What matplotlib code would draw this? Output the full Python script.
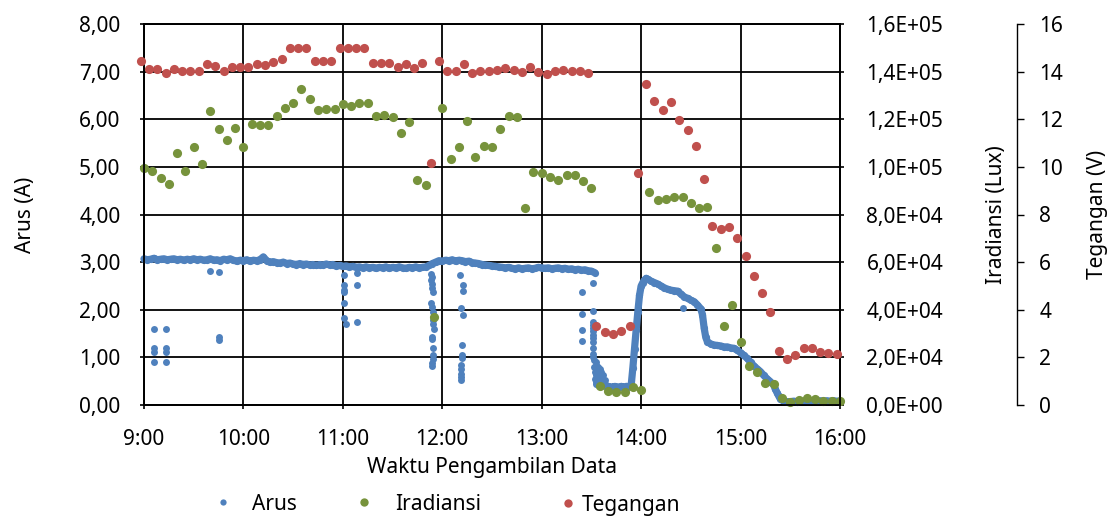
import numpy as np
import pandas as pd
import matplotlib
matplotlib.use("Agg")
import matplotlib.pyplot as plt
from matplotlib.lines import Line2D
from matplotlib.ticker import FuncFormatter, MultipleLocator

plt.rcParams['font.family'] = ['Noto Sans', 'DejaVu Sans']
plt.rcParams['font.size'] = 15

BIRU = '#4F81BD'
HIJAU = '#77933C'
MERAH = '#C0504D'

# --- data logger: tegangan & iradiansi tiap 5 menit ---
TEG_MULAI = "08:58"
IRA_MULAI = "09:00"
INTERVAL = "5min"

tegangan = [
    14.46, 14.10, 14.13, 13.96, 14.10, 14.01, 14.01, 14.04, 14.32, 14.24,
    14.04, 14.21, 14.18, 14.21, 14.32, 14.29, 14.41, 14.52, 14.99, 14.99,
    14.99, 14.46, 14.43, 14.43, 15.00, 15.00, 15.00, 15.00, 14.35, 14.35,
    14.38, 14.21, 14.32, 14.15, 14.35, 10.15, 14.46, 14.01, 14.04, 14.32,
    13.96, 14.01, 14.04, 14.07, 14.15, 14.07, 13.97, 14.18, 13.97, 13.90,
    14.04, 14.07, 14.01, 14.01, 13.96, 3.33, 3.08, 2.97, 3.11, 3.33,
    9.76, 13.47, 12.77, 12.40, 12.73, 11.97, 11.54, 10.88, 9.48, 7.52,
    7.38, 7.46, 7.00, 6.26, 5.43, 4.69, 3.92, 2.28, 1.92, 2.10,
    2.41, 2.41, 2.21, 2.17, 2.14,
]

iradiansi = [
    99400, 98400, 95200, 92800, 105700, 98400, 108500, 101200, 123500, 115900,
    111300, 116200, 108500, 118000, 117600, 117600, 121500, 124900, 126700, 132600,
    128400, 123900, 124400, 124400, 126300, 125700, 126700, 127000, 121500, 121800,
    121100, 114400, 119000, 94500, 92400, 37100, 124700, 103300, 108500, 119400,
    104000, 108800, 108500, 115900, 121500, 121100, 82900, 98000, 97300, 95600,
    94500, 96600, 96600, 94200, 91300, 8000, 5900, 5300, 5300, 7700,
    6300, 89300, 86100, 86400, 87200, 87200, 84700, 82600, 83300, 65800,
    33300, 41900, 26300, 16400, 14000, 9400, 8800, 3100, 1400, 2100,
    2800, 2400, 1800, 1800, 1700,
]

# --- arus (A), menit sejak 09:00 ---
# jejak utama sampai 13:32 (sampel 2 menit)
arus_a_menit = list(range(0, 273, 2))
arus_a = [
    3.07, 3.05, 3.06, 3.08, 3.05, 3.06, 3.07, 3.05, 3.06, 3.07,
    3.05, 3.06, 3.04, 3.06, 3.05, 3.07, 3.05, 3.06, 3.04, 3.05,
    3.07, 3.04, 3.05, 3.03, 3.06, 3.05, 3.07, 3.04, 3.02, 3.04,
    3.03, 3.05, 3.02, 3.04, 3.03, 3.05, 3.11, 3.03, 3.00, 3.01,
    2.99, 2.98, 3.00, 2.97, 2.98, 2.96, 2.95, 2.97, 2.95, 2.96,
    2.94, 2.95, 2.93, 2.95, 2.94, 2.96, 2.94, 2.95, 2.92, 2.93,
    2.91, 2.92, 2.90, 2.91, 2.89, 2.90, 2.88, 2.90, 2.88, 2.89,
    2.87, 2.89, 2.88, 2.90, 2.87, 2.89, 2.88, 2.90, 2.88, 2.87,
    2.89, 2.88, 2.90, 2.88, 2.89, 2.90, 2.93, 2.97, 3.00, 3.03,
    3.02, 3.04, 3.03, 3.05, 3.02, 3.04, 3.03, 3.01, 3.02, 2.99,
    2.98, 2.97, 2.95, 2.94, 2.93, 2.92, 2.91, 2.90, 2.89, 2.88,
    2.89, 2.87, 2.86, 2.88, 2.86, 2.87, 2.88, 2.86, 2.87, 2.89,
    2.88, 2.87, 2.88, 2.86, 2.87, 2.88, 2.86, 2.87, 2.85, 2.86,
    2.84, 2.85, 2.83, 2.84, 2.82, 2.81, 2.78,
]

# jejak utama setelah penurunan 13:35
arus_b_menit = [
    279, 280, 281, 282, 283, 284, 285, 286, 287, 288, 289, 290, 291, 292, 293,
    294, 295, 296, 297, 298, 299, 300, 301, 302, 303,
    304, 306, 308, 310, 312, 314, 316, 318, 320, 322, 324, 326, 328, 330,
    332, 334, 336, 337, 338, 339, 340, 342, 344, 346, 348, 350, 352, 354,
    356, 358, 360, 362, 364, 366, 368, 370, 372, 374, 376, 378, 380, 381,
    382, 383, 384, 386, 388, 390, 392, 394, 396, 398, 400, 402, 404, 406,
    408, 410, 412, 414, 416, 418, 420,
]
arus_b = [
    0.40, 0.39, 0.37, 0.38, 0.37, 0.39, 0.38, 0.37, 0.38, 0.39, 0.37, 0.38, 0.39, 0.38, 0.40,
    0.42, 0.78, 1.18, 1.58, 1.95, 2.30, 2.50, 2.57, 2.62, 2.66,
    2.64, 2.60, 2.57, 2.54, 2.50, 2.46, 2.43, 2.41, 2.40, 2.39, 2.33, 2.27, 2.24, 2.20,
    2.17, 2.10, 2.02, 1.90, 1.62, 1.42, 1.33, 1.28, 1.26, 1.25, 1.24, 1.22, 1.22, 1.20,
    1.19, 1.15, 1.10, 1.04, 0.98, 0.90, 0.82, 0.76, 0.70, 0.62, 0.55, 0.49, 0.42, 0.33,
    0.26, 0.19, 0.13, 0.08, 0.07, 0.07, 0.08, 0.07, 0.08, 0.08, 0.09, 0.08, 0.09, 0.08,
    0.09, 0.08, 0.09, 0.08, 0.09, 0.08, 0.08,
]

# titik-titik lepas (arus turun sesaat)
lepas_menit = [
    6, 6, 6, 6, 13.5, 13.5, 13.5, 13.5,
    40, 45.5, 45.5, 45.5,
    120.5, 120.5, 120.5, 120.5, 120.5, 120.5, 122, 128.5, 128.5, 128.5,
    173.0, 173.5, 173.2, 174.0, 173.6, 174.2, 173.4, 174.0, 174.4, 174.6,
    174.4, 174.8, 173.6, 174.0, 174.6, 174.4, 174.2, 173.8, 174.0,
    190.5, 192.5, 192.5, 191.0, 192.5, 192.0, 192.0, 192.0, 191.5, 191.5,
    191.5, 191.5, 191.5,
    264.2, 264.2, 264.2, 264.2,
    271, 271, 271, 271, 271, 271, 271, 271, 271, 271, 271, 271,
    271.5, 271.5, 272, 272, 272.5, 272.5, 272.5, 273, 273, 273, 273.5, 273.5,
    274, 274, 274, 275, 275, 275, 276, 276, 276, 277, 277, 278, 278, 279,
    325.3,
]
lepas_arus = [
    1.60, 1.19, 1.12, 0.90, 1.60, 1.19, 1.12, 0.90,
    2.82, 2.80, 1.42, 1.36,
    2.73, 2.52, 2.41, 2.37, 2.14, 1.82, 1.70, 2.78, 2.52, 1.75,
    2.75, 2.68, 2.62, 2.55, 2.45, 2.38, 2.15, 2.05, 1.95, 1.78,
    1.70, 1.60, 1.43, 1.38, 1.19, 1.05, 0.97, 0.88, 0.82,
    2.73, 2.52, 2.40, 2.04, 1.88, 1.27, 1.06, 0.99, 0.84, 0.75,
    0.66, 0.58, 0.53,
    2.38, 1.91, 1.57, 1.35,
    2.56, 1.98, 1.75, 1.68, 1.62, 1.55, 1.48, 1.40, 1.32, 1.19, 1.08, 1.01,
    0.95, 0.80, 0.70, 0.55, 0.90, 0.62, 0.48, 0.85, 0.75, 0.45, 0.68, 0.52,
    0.80, 0.60, 0.42, 0.75, 0.55, 0.40, 0.70, 0.50, 0.40, 0.62, 0.45, 0.52, 0.40, 0.42,
    2.03,
]


def ke_jam(menit):
    return 9 + np.asarray(menit, dtype=float) / 60.0


def waktu_jam(mulai, n):
    t = pd.date_range(f"2020-01-01 {mulai}", periods=n, freq=INTERVAL)
    return t.hour + t.minute / 60.0


t_teg = waktu_jam(TEG_MULAI, len(tegangan))
t_ira = waktu_jam(IRA_MULAI, len(iradiansi))

fig = plt.figure(figsize=(11.08, 5.18), dpi=100)
ax = fig.add_axes([144 / 1108, 1 - 405 / 518, 696 / 1108, 381 / 518])
ax2 = ax.twinx()
ax3 = ax.twinx()

# Arus
for tm, val in [(arus_a_menit, arus_a), (arus_b_menit, arus_b)]:
    ax.plot(ke_jam(tm), val, '-', color=BIRU, lw=5.2, solid_capstyle='round',
            solid_joinstyle='round', clip_on=False, zorder=3)
    ax.plot(ke_jam(tm), val, 'o', color=BIRU, ms=5.2, mec='none', clip_on=False, zorder=3)
ax.plot(ke_jam(lepas_menit), lepas_arus, 'o', color=BIRU, ms=5, mec='none',
        clip_on=False, zorder=3)

# Iradiansi & Tegangan
ax2.plot(t_ira, iradiansi, 'o', color=HIJAU, ms=6.6, mec='none', clip_on=False)
ax3.plot(t_teg, tegangan, 'o', color=MERAH, ms=6.6, mec='none', clip_on=False)

ax.set_xlim(9, 16)
ax.set_ylim(0, 8)
ax2.set_ylim(0, 160000)
ax3.set_ylim(0, 16)

ax.xaxis.set_major_locator(MultipleLocator(1))
ax.xaxis.set_major_formatter(FuncFormatter(lambda v, p: f"{int(round(v))}:00"))
ax.yaxis.set_major_locator(MultipleLocator(1))
ax.yaxis.set_major_formatter(FuncFormatter(lambda v, p: f"{v:.2f}".replace('.', ',')))
ax2.yaxis.set_major_locator(MultipleLocator(20000))
ax2.yaxis.set_major_formatter(FuncFormatter(lambda v, p: f"{v:.1E}".replace('.', ',')))
ax3.yaxis.set_major_locator(MultipleLocator(2))

ax.set_axisbelow(True)
ax.grid(True, color='black', lw=1.3)
for a in (ax, ax2):
    for s in a.spines.values():
        s.set_color('black')
        s.set_linewidth(1.3)

ax3.spines['right'].set_position(('axes', 1.2543))
for nama in ('left', 'top', 'bottom'):
    ax3.spines[nama].set_visible(False)
ax3.spines['right'].set_linewidth(1.0)

ax.tick_params(axis='y', length=3, width=1.2, pad=14, labelsize=15)
ax.tick_params(axis='x', length=3, width=1.2, pad=14, labelsize=15)
ax2.tick_params(axis='y', length=3, width=1.2, pad=16, labelsize=15)
ax3.tick_params(axis='y', length=5, width=1.0, pad=11, labelsize=15)

ax.set_xlabel("Waktu Pengambilan Data", fontsize=15, labelpad=5)
ax.set_ylabel("Arus (A)", fontsize=15, labelpad=31)
ax2.set_ylabel("Iradiansi (Lux)", fontsize=15, labelpad=31)
ax3.set_ylabel("Tegangan (V)", fontsize=15, labelpad=17)

# legenda di bawah
entri = [
    (Line2D([], [], ls='none', marker='o', color=BIRU, ms=4.5, mec='none'), "Arus", 218.8, 504, 1.2),
    (Line2D([], [], ls='none', marker='o', color=HIJAU, ms=6, mec='none'), "Iradiansi", 359.8, 504, 1.29),
    (Line2D([], [], ls='none', marker='o', color=MERAH, ms=6, mec='none'), "Tegangan", 563.8, 505, 0.475),
]
for h, lab, x, y, pad in entri:
    fig.legend([h], [lab], loc='center left', bbox_to_anchor=(x / 1108, 1 - y / 518),
               frameon=False, handlelength=0.4, handletextpad=pad, borderpad=0,
               borderaxespad=0, fontsize=15)

fig.savefig("out.png", dpi=100)
